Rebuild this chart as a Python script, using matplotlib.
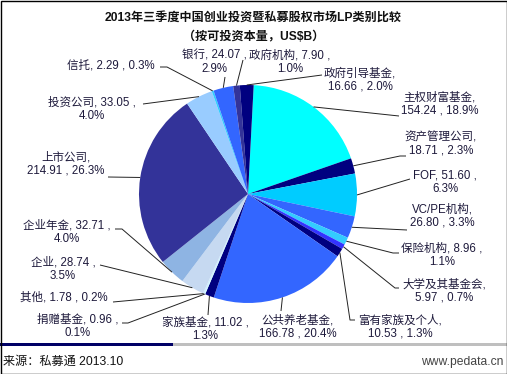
import numpy as np
import matplotlib
matplotlib.use("Agg")
import matplotlib.pyplot as plt
from matplotlib.patches import Rectangle

plt.rcParams['font.family'] = ['Liberation Sans', 'Noto Sans CJK SC', 'DejaVu Sans']

# ---- data (clockwise from top) ----
categories = ["主权财富基金", "资产管理公司", "FOF", "VC/PE机构", "保险机构", "大学及其基金会",
              "富有家族及个人", "公共养老基金", "家族基金", "捐赠基金", "其他", "企业", "企业年金",
              "上市公司", "投资公司", "信托", "银行", "政府机构", "政府引导基金"]
values = [154.24, 18.71, 51.60, 26.80, 8.96, 5.97, 10.53, 166.78, 11.02, 0.96, 1.78, 28.74,
          32.71, 214.91, 33.05, 2.29, 24.07, 7.90, 16.66]
colors = ["#00FFFF", "#000080", "#00CCFF", "#3366FF", "#33CCFF", "#3333FF", "#000080", "#3366FF",
          "#000080", "#CCFFFF", "#CCECFF", "#C6D9F1", "#8EB4E3", "#333399", "#99CCFF", "#33CCFF",
          "#3366FF", "#333399", "#000080"]
title = "2013年三季度中国创业投资暨私募股权市场LP类别比较"
subtitle = "（按可投资本量，US$B）"
source = "来源：私募通 2013.10"
site = "www.pedata.cn"

# ---- layout (pixel coordinates from top-left) ----
W, H = 507, 374
def Y(py):
    return H - py

# label style: 0 -> "name,\nvalue , pct"; 1 -> "name, value ,\npct"; 2 -> single line
label_layout = [
    (440, 104, 0, [(399, 116)]),
    (441, 144, 0, [(400, 156), (406, 156)]),
    (445, 182, 1, [(410, 179)]),
    (442, 216, 0, [(407, 230)]),
    (442, 255, 1, [(393, 253), (399, 253)]),
    (444, 291, 0, [(395, 288), (399, 288)]),
    (400, 327, 0, [(350, 320), (355, 320)]),
    (298, 327, 0, [(281, 311)]),
    (205, 329, 1, [(208, 315)]),
    (78, 326, 1, [(128, 323), (122, 323)]),
    (64, 297, 2, [(113, 302)]),
    (63, 269, 1, [(100, 265)]),
    (67, 232, 1, [(122, 229), (115, 229)]),
    (66, 164, 0, [(108, 177)]),
    (92, 109, 1, [(143, 104)]),
    (111, 65, 2, [(167, 67), (160, 67)]),
    (214, 62, 1, [(225, 77)]),
    (290, 62, 1, [(243, 60)]),
    (360, 80, 0, [(322, 75)]),
]

fig = plt.figure(figsize=(W / 100, H / 100), dpi=100)
ax = fig.add_axes([0, 0, 1, 1])
cx, cy, r = 248, Y(194), 109
wedges, _ = ax.pie(values, colors=colors, startangle=87, counterclock=False,
                   center=(cx, cy), radius=r, frame=True,
                   wedgeprops=dict(linewidth=0))
ax.set_xlim(0, W)
ax.set_ylim(0, H)
ax.axis('off')

total = sum(values)
txtcolor = "#1e1a3c"
for name, v, w, (lx, ly, style, pts) in zip(categories, values, wedges, label_layout):
    pct = v / total * 100
    if style == 0:
        s = f"{name},\n{v:.2f} , {pct:.1f}%"
    elif style == 1:
        s = f"{name}, {v:.2f} ,\n{pct:.1f}%"
    else:
        s = f"{name}, {v:.2f} , {pct:.1f}%"
    ax.text(lx, Y(ly), s, ha='center', va='center', multialignment='center',
            fontsize=8.3, color=txtcolor, linespacing=1.2)
    mid = np.deg2rad((w.theta1 + w.theta2) / 2)
    ax_ = cx + r * np.cos(mid)
    ay_ = cy + r * np.sin(mid)
    xs = [ax_] + [p[0] for p in pts]
    ys = [ay_] + [Y(p[1]) for p in pts]
    ax.plot(xs, ys, color="#222222", lw=0.7, solid_capstyle='butt')

ax.text(W / 2, Y(18), title, ha='center', va='center', fontsize=8.7, fontweight='bold',
        color='#111111')
ax.text(W / 2, Y(37), subtitle, ha='center', va='center', fontsize=8.7, fontweight='bold',
        color='#111111')

ax.add_patch(Rectangle((0, Y(346)), 173, 3, facecolor='#000066', edgecolor='none'))
ax.add_patch(Rectangle((173, Y(346)), W - 173, 3, facecolor='#BFBFBF', edgecolor='none'))
ax.text(3, Y(362), source, ha='left', va='center', fontsize=8.7, color='#111111')
ax.text(503, Y(362), site, ha='right', va='center', fontsize=8.7, color='#444444')
ax.add_patch(Rectangle((0.5, 0.5), W - 1, H - 1, facecolor='none', edgecolor='black', lw=1))

fig.savefig("out.png", dpi=100)
